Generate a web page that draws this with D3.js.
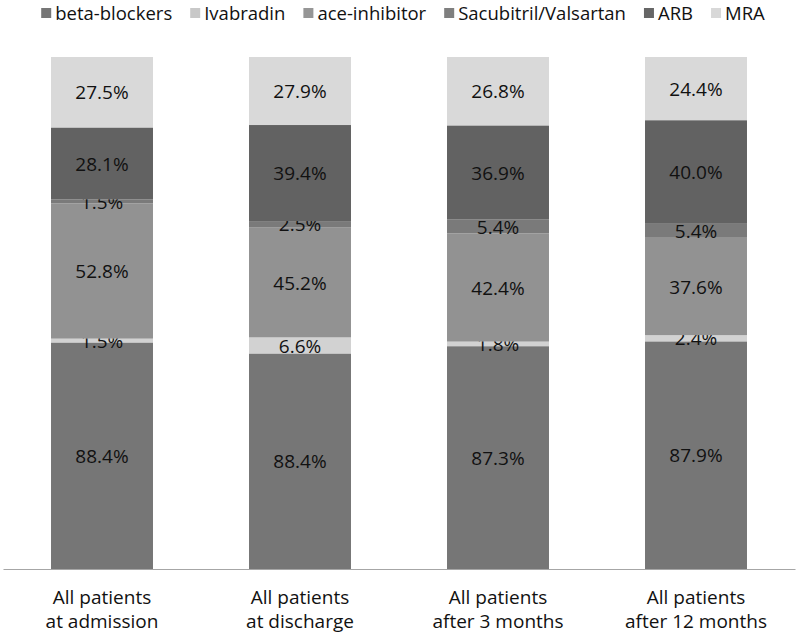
<!DOCTYPE html>
<html>
<head>
<meta charset="utf-8">
<script src="https://cdn.jsdelivr.net/npm/d3@7"></script>
<style>
  body { margin: 0; background: #fff; }
  svg text { font-family: "Open Sans", sans-serif; fill: #111; }
</style>
</head>
<body>
<svg id="chart"></svg>
<script>
// categories and series (in %)
var categories = ["admission", "discharge", "3m", "12m"]
var categoryLabels = [
  ["All patients", "at admission"],
  ["All patients", "at discharge"],
  ["All patients", "after 3 months"],
  ["All patients", "after 12 months"]
]
var seriesNames = ["beta-blockers", "Ivabradin", "ace-inhibitor", "Sacubitril/Valsartan", "ARB", "MRA"]
var betaBlockers = [88.4, 88.4, 87.3, 87.9]
var ivabradin = [1.5, 6.6, 1.8, 2.4]
var aceInhibitor = [52.8, 45.2, 42.4, 37.6]
var sacubitril = [1.5, 2.5, 5.4, 5.4]
var arb = [28.1, 39.4, 36.9, 40.0]
var mra = [27.5, 27.9, 26.8, 24.4]

var colors = ["#767676", "#d2d2d2", "#929292", "#7a7a7a", "#626262", "#d9d9d9"]
var legendColors = ["#767676", "#c8c8c8", "#969696", "#7f7f7f", "#666666", "#d8d8d8"]

var dimensions = {
  width: 800,
  height: 639,
  margin: { top: 57, bottom: 70, left: 3, right: 5 }
}

var svg = d3.select("#chart")
  .attr("width", dimensions.width)
  .attr("height", dimensions.height)

// build rows for the stack
var allSeries = [betaBlockers, ivabradin, aceInhibitor, sacubitril, arb, mra]
var rows = categories.map(function(c, i) {
  var r = { category: c }
  seriesNames.forEach(function(s, j) { r[s] = allSeries[j][i] })
  return r
})

var stacked = d3.stack()
  .keys(seriesNames)
  .offset(d3.stackOffsetExpand)(rows)

var x = d3.scaleBand()
  .domain(categories)
  .range([dimensions.margin.left, dimensions.width - dimensions.margin.right])
  .paddingInner(0.485)
  .paddingOuter(0.2425)

var y = d3.scaleLinear()
  .domain([0, 1])
  .range([dimensions.height - dimensions.margin.bottom, dimensions.margin.top])

// bars
var layers = svg.append("g")
  .selectAll("g")
  .data(stacked)
  .join("g")
  .attr("fill", (d, i) => colors[i])

layers.selectAll("rect")
  .data(d => d)
  .join("rect")
  .attr("x", d => x(d.data.category))
  .attr("y", d => y(d[1]))
  .attr("width", x.bandwidth())
  .attr("height", d => y(d[0]) - y(d[1]))

// value labels
layers.each(function(layer, i) {
  d3.select(this).selectAll("text")
    .data(layer)
    .join("text")
    .attr("x", d => x(d.data.category) + x.bandwidth() / 2)
    .attr("y", d => (y(d[0]) + y(d[1])) / 2)
    .attr("dy", "0.38em")
    .attr("text-anchor", "middle")
    .style("font-size", "19px")
    .text(d => d.data[layer.key].toFixed(1) + "%")
})

// x axis line
var xAxis = svg.append("g")
  .attr("transform", "translate(0," + y(0) + ")")
  .call(d3.axisBottom(x).tickSize(0).tickFormat(""))
xAxis.select(".domain").attr("stroke", "#a6a6a6").attr("stroke-width", 1.2)

// category labels, two lines each
categories.forEach(function(c, i) {
  var t = svg.append("text")
    .attr("text-anchor", "middle")
    .style("font-size", "19px")
  categoryLabels[i].forEach(function(line, k) {
    t.append("tspan")
      .attr("x", x(c) + x.bandwidth() / 2)
      .attr("y", y(0) + 35 + k * 24)
      .text(line)
  })
})

// legend, centred across the top
var legend = svg.append("g")
var cursor = 0
seriesNames.forEach(function(name, i) {
  var item = legend.append("g").attr("transform", "translate(" + cursor + ",0)")
  item.append("rect")
    .attr("x", 0)
    .attr("y", 8)
    .attr("width", 10)
    .attr("height", 10)
    .attr("fill", legendColors[i])
  var label = item.append("text")
    .attr("x", 14)
    .attr("y", 20)
    .style("font-size", "18.5px")
    .text(name)
  cursor += 14 + label.node().getComputedTextLength() + 18
})
var legendWidth = cursor - 18
legend.attr("transform", "translate(" + (403 - legendWidth / 2) + ",0)")
</script>
</body>
</html>
